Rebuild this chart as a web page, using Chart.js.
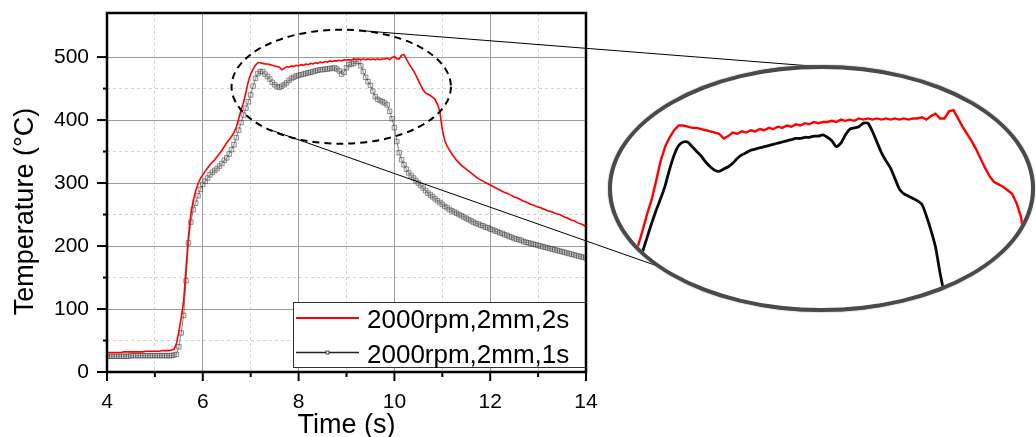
<!DOCTYPE html>
<html>
<head>
<meta charset="utf-8">
<title>Temperature vs time</title>
<script src="https://cdn.jsdelivr.net/npm/chart.js@4.4.1/dist/chart.umd.min.js"></script>
<style>
  html, body { margin: 0; padding: 0; background: #fff; }
  #wrap { position: relative; width: 1036px; height: 437px; overflow: hidden; background: #fff; }
  #main { position: absolute; left: 0; top: 0; }
  #lens {
    position: absolute; left: 608px; top: 65px; width: 427px; height: 247px;
    box-sizing: border-box; border: 4px solid #4a4a4a; border-radius: 50%;
    overflow: hidden; background: #fff; box-shadow: 0 0 1.5px #777;
  }
  #zoom { position: absolute; left: 0; top: 0; }
</style>
</head>
<body>
<div id="wrap">
  <canvas id="main" width="1036" height="437"></canvas>
  <div id="lens"><canvas id="zoom" width="419" height="239"></canvas></div>
</div>
<script>
// Sample times (s)
const timeS = [
  4.00,4.05,4.10,4.15,4.20,4.25,4.30,4.35,4.40,4.45,4.50,4.55,4.60,4.65,4.70,4.75,4.80,4.85,4.90,4.95,
  5.00,5.05,5.10,5.15,5.20,5.25,5.30,5.35,5.40,5.45,5.50,5.55,5.60,5.65,5.70,5.75,5.80,5.85,5.90,5.95,
  6.00,6.05,6.10,6.15,6.20,6.25,6.30,6.35,6.40,6.45,6.50,6.55,6.60,6.65,6.70,6.75,6.80,6.85,6.90,6.95,
  7.00,7.05,7.10,7.15,7.20,7.25,7.30,7.35,7.40,7.45,7.50,7.55,7.60,7.65,7.70,7.75,7.80,7.85,7.90,7.95,
  8.00,8.05,8.10,8.15,8.20,8.25,8.30,8.35,8.40,8.45,8.50,8.55,8.60,8.65,8.70,8.75,8.80,8.85,8.90,8.95,
  9.00,9.05,9.10,9.15,9.20,9.25,9.30,9.35,9.40,9.45,9.50,9.55,9.60,9.65,9.70,9.75,9.80,9.85,9.90,9.95,
  10.00,10.05,10.10,10.15,10.20,10.25,10.30,10.35,10.40,10.45,10.50,10.55,10.60,10.65,10.70,10.75,10.80,10.85,10.90,10.95,
  11.00,11.05,11.10,11.15,11.20,11.25,11.30,11.35,11.40,11.45,11.50,11.55,11.60,11.65,11.70,11.75,11.80,11.85,11.90,11.95,
  12.00,12.05,12.10,12.15,12.20,12.25,12.30,12.35,12.40,12.45,12.50,12.55,12.60,12.65,12.70,12.75,12.80,12.85,12.90,12.95,
  13.00,13.05,13.10,13.15,13.20,13.25,13.30,13.35,13.40,13.45,13.50,13.55,13.60,13.65,13.70,13.75,13.80,13.85,13.90,13.95,
  14.00
];

// Temperature (°C), 2000 rpm, 2 mm, 2 s dwell
const tempDwell2s = [
  31,31,31,31,31,31,31,32,32,32,32,32,32,32,32,32,33,33,33,33,
  33,33,33,34,34,34,34,35,36,45,64,86,112,165,215,250,272,287,299,307,
  313,319,324,329,333,337,342,347,352,358,364,369,374,380,389,402,416,428,444,461,
  473,481,487,491,491,490,489,489,488,487,486,485,484,480,482,485,484,486,485,487,
  486,488,487,489,488,490,489,491,490,492,491,493,492,494,493,494,494,495,494,496,
  495,496,495,497,496,497,496,497,496,497,496,497,496,497,496,497,497,498,496,499,
  501,497,497,503,504,497,490,484,478,471,463,455,448,443,441,439,436,433,425,413,
  385,368,359,352,346,341,336,332,328,325,322,319,316,313,310,307,305,303,301,299,
  297,295,293,291,289,287,285,284,282,280,278,277,275,273,271,270,268,266,265,263,
  262,261,259,258,256,255,254,252,251,250,248,246,245,243,241,240,238,236,235,233,
  231
];

// Temperature (°C), 2000 rpm, 2 mm, 1 s dwell
const tempDwell1s = [
  25,25,25,25,25,25,25,25,25,25,26,26,26,26,26,26,26,26,26,26,
  26,26,26,26,26,26,26,26,27,28,40,62,90,145,205,238,258,268,280,290,
  298,303,308,313,317,320,323,327,331,336,340,346,353,361,372,384,396,408,419,429,
  440,454,466,474,477,477,473,469,465,460,456,453,452,454,456,459,463,466,468,470,
  471,472,473,474,475,476,477,478,479,480,480,481,481,482,482,483,481,478,473,476,
  483,488,489,490,493,493,486,477,468,461,455,446,437,433,431,429,427,424,414,402,
  388,366,348,337,329,322,316,312,308,304,300,296,292,288,284,281,278,275,272,269,
  266,263,261,258,256,254,252,250,248,246,244,242,240,238,236,235,233,232,230,229,
  227,226,224,223,221,220,218,217,215,214,212,211,210,209,207,206,205,204,203,202,
  201,200,199,198,197,196,195,194,193,192,191,190,189,188,187,186,185,184,183,182,
  181
];

const seriesNames = ['2000rpm,2mm,2s', '2000rpm,2mm,1s'];
const xTickLabels = [4, 6, 8, 10, 12, 14];
const yTickLabels = [0, 100, 200, 300, 400, 500];

// Highlighted region (data units) and the magnified window shown in the lens
const focus = { x: 8.89, y: 453, rx: 2.29, ry: 90.5 };
const lensRange = { xMin: 6.41, xMax: 11.06, yMin: 336, yMax: 539 };
// [angle on highlight ellipse, angle on lens ellipse] for the two guide lines
const guideAngles = [[-1.39, -1.56], [2.31, 2.44]];

const FONT = "'Liberation Sans', Arial, sans-serif";
const toPoints = arr => arr.map((v, i) => ({ x: timeS[i], y: v }));

const isMajorX = v => xTickLabels.includes(v);
const isMajorY = v => yTickLabels.includes(v);

const decor = {
  id: 'decor',
  afterDatasetsDraw(chart) {
    const { ctx, scales: { x, y } } = chart;
    const cx = x.getPixelForValue(focus.x), cy = y.getPixelForValue(focus.y);
    const rx = x.getPixelForValue(focus.x + focus.rx) - cx;
    const ry = cy - y.getPixelForValue(focus.y + focus.ry);
    ctx.save();
    ctx.strokeStyle = '#000';
    ctx.lineWidth = 2;
    ctx.setLineDash([7, 5]);
    ctx.beginPath();
    ctx.ellipse(cx, cy, rx, ry, 0, 0, Math.PI * 2);
    ctx.stroke();

    const lens = document.getElementById('lens');
    const lx = lens.offsetLeft + lens.offsetWidth / 2;
    const ly = lens.offsetTop + lens.offsetHeight / 2;
    const lrx = lens.offsetWidth / 2 - 2, lry = lens.offsetHeight / 2 - 2;
    ctx.setLineDash([]);
    ctx.lineWidth = 1;
    guideAngles.forEach(([a0, a1]) => {
      ctx.beginPath();
      ctx.moveTo(cx + rx * Math.cos(a0), cy + ry * Math.sin(a0));
      ctx.lineTo(lx + lrx * Math.cos(a1), ly + lry * Math.sin(a1));
      ctx.stroke();
    });
    ctx.restore();
  },
  afterDraw(chart) {
    const { ctx, chartArea: a, scales: { x, y } } = chart;
    ctx.save();

    // legend box
    const lw = 293, lh = 66;
    const bx = a.right - lw, by = a.bottom - 4 - lh;
    ctx.fillStyle = '#fff';
    ctx.fillRect(bx, by, lw, lh);
    ctx.strokeStyle = '#333';
    ctx.lineWidth = 1;
    ctx.strokeRect(bx + 0.5, by + 0.5, lw - 1, lh - 1);
    ctx.font = `26px ${FONT}`;
    ctx.textAlign = 'left';
    ctx.textBaseline = 'alphabetic';
    chart.data.datasets.forEach((ds, i) => {
      const ly = by + 16 + i * 34.5;
      ctx.strokeStyle = i === 0 ? ds.borderColor : '#222';
      ctx.lineWidth = i === 0 ? 2 : 1.6;
      ctx.beginPath();
      ctx.moveTo(bx + 3, ly);
      ctx.lineTo(bx + 66, ly);
      ctx.stroke();
      if (i === 1) {
        ctx.fillStyle = '#fff';
        ctx.lineWidth = 0.8;
        ctx.fillRect(bx + 33, ly - 1.5, 3, 3);
        ctx.strokeRect(bx + 33, ly - 1.5, 3, 3);
      }
      ctx.fillStyle = '#000';
      ctx.fillText(ds.label, bx + 74, ly + 10);
    });

    // frame
    ctx.strokeStyle = '#000';
    ctx.lineWidth = 2.5;
    ctx.strokeRect(a.left, a.top, a.right - a.left, a.bottom - a.top);

    // outward ticks
    ctx.lineWidth = 2;
    x.ticks.forEach(t => {
      const px = x.getPixelForValue(t.value);
      const len = isMajorX(t.value) ? 9 : 5;
      ctx.beginPath();
      ctx.moveTo(px, a.bottom);
      ctx.lineTo(px, a.bottom + len);
      ctx.stroke();
    });
    y.ticks.forEach(t => {
      if (t.value % 50 !== 0) return;
      const py = y.getPixelForValue(t.value);
      const len = isMajorY(t.value) ? 10 : 4;
      ctx.beginPath();
      ctx.moveTo(a.left, py);
      ctx.lineTo(a.left - len, py);
      ctx.stroke();
    });

    // axis titles
    ctx.fillStyle = '#000';
    ctx.font = `27px ${FONT}`;
    ctx.textAlign = 'center';
    ctx.textBaseline = 'alphabetic';
    ctx.fillText('Time (s)', (a.left + a.right) / 2, 433);
    ctx.translate(33, 211.5);
    ctx.rotate(-Math.PI / 2);
    ctx.fillText('Temperature (\u00B0C)', 0, 0);
    ctx.restore();
  }
};

const gridStyle = major => ({
  color: c => (c.tick && major(c.tick.value)) ? '#9c9c9c' : '#d2d2d2',
  lineWidth: 1,
  drawTicks: false
});
const borderStyle = major => ({
  display: false,
  dash: c => (c.tick && major(c.tick.value)) ? [] : [3, 3]
});

new Chart(document.getElementById('main'), {
  type: 'line',
  data: {
    datasets: [
      {
        label: seriesNames[0],
        data: toPoints(tempDwell2s),
        borderColor: '#ff0000',
        borderWidth: 1.6,
        pointRadius: 0,
        tension: 0
      },
      {
        label: seriesNames[1],
        data: toPoints(tempDwell1s),
        borderColor: 'rgba(60,60,60,0.8)',
        borderWidth: 0.8,
        pointStyle: 'rect',
        pointRadius: 3.2,
        pointBorderWidth: 0.8,
        pointBorderColor: 'rgba(20,20,20,0.55)',
        pointBackgroundColor: 'rgba(190,190,190,0.3)',
        tension: 0
      }
    ]
  },
  options: {
    responsive: false,
    animation: false,
    events: [],
    layout: { padding: { left: 0, top: 13, right: 450, bottom: 0 } },
    plugins: { legend: { display: false }, tooltip: { enabled: false } },
    scales: {
      x: {
        type: 'linear', min: 4, max: 14,
        ticks: {
          stepSize: 1, autoSkip: false, maxRotation: 0, padding: 18,
          color: '#000', font: { family: FONT, size: 21 },
          callback: v => isMajorX(v) ? String(v) : ''
        },
        grid: gridStyle(isMajorX),
        border: borderStyle(isMajorX),
        afterFit: s => { s.height = 65; s.paddingLeft = 0; s.paddingRight = 0; }
      },
      y: {
        type: 'linear', min: 0, max: 570,
        afterBuildTicks: s => { s.ticks = s.ticks.filter(t => t.value % 50 === 0); },
        ticks: {
          stepSize: 50, autoSkip: false, padding: 18,
          color: '#000', font: { family: FONT, size: 21 },
          callback: v => isMajorY(v) ? String(v) : ''
        },
        grid: gridStyle(isMajorY),
        border: borderStyle(isMajorY),
        afterFit: s => { s.width = 107; s.paddingTop = 0; s.paddingBottom = 0; }
      }
    }
  },
  plugins: [decor]
});

// Magnified view of the highlighted region
new Chart(document.getElementById('zoom'), {
  type: 'line',
  data: {
    datasets: [
      { data: toPoints(tempDwell2s), borderColor: '#ff0000', borderWidth: 2.4, pointRadius: 0, tension: 0 },
      { data: toPoints(tempDwell1s), borderColor: '#0a0a0a', borderWidth: 2.8, pointRadius: 0, tension: 0.2 }
    ]
  },
  options: {
    responsive: false,
    animation: false,
    events: [],
    layout: { padding: 0 },
    plugins: { legend: { display: false }, tooltip: { enabled: false } },
    scales: {
      x: { type: 'linear', display: false, min: lensRange.xMin, max: lensRange.xMax },
      y: { type: 'linear', display: false, min: lensRange.yMin, max: lensRange.yMax }
    }
  }
});
</script>
</body>
</html>
